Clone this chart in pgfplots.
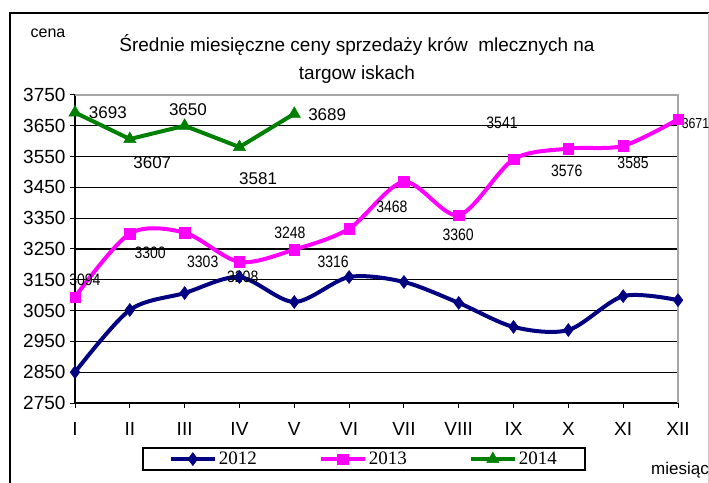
\documentclass[border=0pt]{standalone}
\usepackage{pgfplots}
\pgfplotsset{compat=1.18}
\usepackage{fontspec}
\setmainfont{Liberation Sans}
\newfontfamily\seriffont{Liberation Serif}
\newfontfamily\narrowfont[FakeStretch=0.85]{Liberation Sans}
\definecolor{navy}{RGB}{0,0,128}
\definecolor{mag}{RGB}{255,0,255}
\definecolor{grn}{RGB}{0,128,0}
\begin{document}
\begin{tikzpicture}[x=1pt,y=1pt]
\clip (0,0) rectangle (709,482);
\fill[white] (0,0) rectangle (709,482);
\draw[line width=2pt] (10,-5) -- (10,469) -- (712,469);
\draw[gray!40, line width=0.8pt] (708.3,-5) -- (708.3,469);
\node[font=\fontsize{16}{18}\selectfont] at (48,449) {cena};
\node[font=\fontsize{19}{22}\selectfont] at (357,437) {Średnie miesięczne ceny sprzedaży krów \ mlecznych na};
\node[font=\fontsize{19}{22}\selectfont] at (357,407) {targow iskach};
\node[anchor=west, font=\fontsize{17}{19}\selectfont, inner sep=0pt] at (651,12) {miesiąc};
\begin{axis}[
  at={(75pt,79pt)}, anchor=south west,
  scale only axis, width=603pt, height=308pt,
  xmin=1, xmax=12, ymin=2750, ymax=3750,
  axis lines*=left,
  axis line style={line width=1.5pt},
  xtick={1,...,12},
  xticklabels={I,II,III,IV,V,VI,VII,VIII,IX,X,XI,XII},
  ytick={2750,2850,...,3750},
  ymajorgrids, grid style={black, line width=1.3pt},
  tick style={black, line width=1pt}, major tick length=5pt, tick align=outside,
  xticklabel style={font=\fontsize{19}{21}\selectfont, yshift=-11pt},
  yticklabel style={font=\fontsize{19}{21}\selectfont, xshift=-1pt},
  /pgf/number format/assume math mode=true,
  /pgf/number format/set thousands separator={},
  clip=false,
  legend columns=3,
  legend style={at={(0.479,-0.182)}, anchor=center, draw=black, line width=1.5pt,
    font=\seriffont\fontsize{19}{21}\selectfont, inner xsep=26pt, inner ysep=2pt,
    /tikz/every even column/.append style={column sep=60pt}},
  legend image code/.code={\draw[mark repeat=2, mark phase=2, #1] plot coordinates {(0pt,0pt) (22pt,0pt) (44pt,0pt)};},
]
\addplot[navy, line width=4pt, smooth, tension=0.5, mark=diamond*, mark size=6.5pt, mark options={solid, line width=0.5pt}]
  coordinates {(1,2850) (2,3052) (3,3107) (4,3159) (5,3078) (6,3159) (7,3143) (8,3075) (9,2997) (10,2987) (11,3097) (12,3084)};
\addlegendentry{2012}
\addplot[mag, line width=4pt, smooth, tension=0.5, mark=square*, mark size=5.2pt, mark options={solid, line width=0.5pt}]
  coordinates {(1,3094) (2,3300) (3,3303) (4,3208) (5,3248) (6,3316) (7,3468) (8,3360) (9,3541) (10,3576) (11,3585) (12,3671)};
\addlegendentry{2013}
\addplot[grn, line width=4pt, mark=triangle*, mark size=7pt, mark options={solid, line width=0.5pt}]
  coordinates {(1,3693) (2,3607) (3,3650) (4,3581) (5,3689)};
\addlegendentry{2014}
\draw[gray!70, line width=1.5pt] (rel axis cs:0,1) -- (rel axis cs:1,1) -- (rel axis cs:1,0);
% 2014 labels
\begin{scope}[every node/.style={font=\fontsize{17}{19}\selectfont, inner sep=0pt}]
\node at (axis cs:1.60,3692) {3693};
\node at (axis cs:2.41,3529) {3607};
\node at (axis cs:3.06,3701) {3650};
\node at (axis cs:4.34,3480) {3581};
\node at (axis cs:5.60,3685) {3689};
\end{scope}
% 2013 labels
\begin{scope}[every node/.style={font=\narrowfont\fontsize{16.5}{18}\selectfont, inner sep=0pt}]
\node at (axis cs:1.18,3149) {3094};
\node at (axis cs:2.37,3237) {3300};
\node at (axis cs:3.33,3208) {3303};
\node at (axis cs:4.06,3159) {3208};
\node at (axis cs:4.92,3302) {3248};
\node at (axis cs:5.71,3208) {3316};
\node at (axis cs:6.78,3386) {3468};
\node at (axis cs:7.99,3295) {3360};
\node at (axis cs:8.79,3659) {3541};
\node at (axis cs:9.97,3503) {3576};
\node at (axis cs:11.18,3529) {3585};
\node[anchor=west, font=\narrowfont\fontsize{14.5}{16}\selectfont] at (axis cs:12.065,3658) {3671};
\end{scope}
\end{axis}
\end{tikzpicture}
\end{document}
